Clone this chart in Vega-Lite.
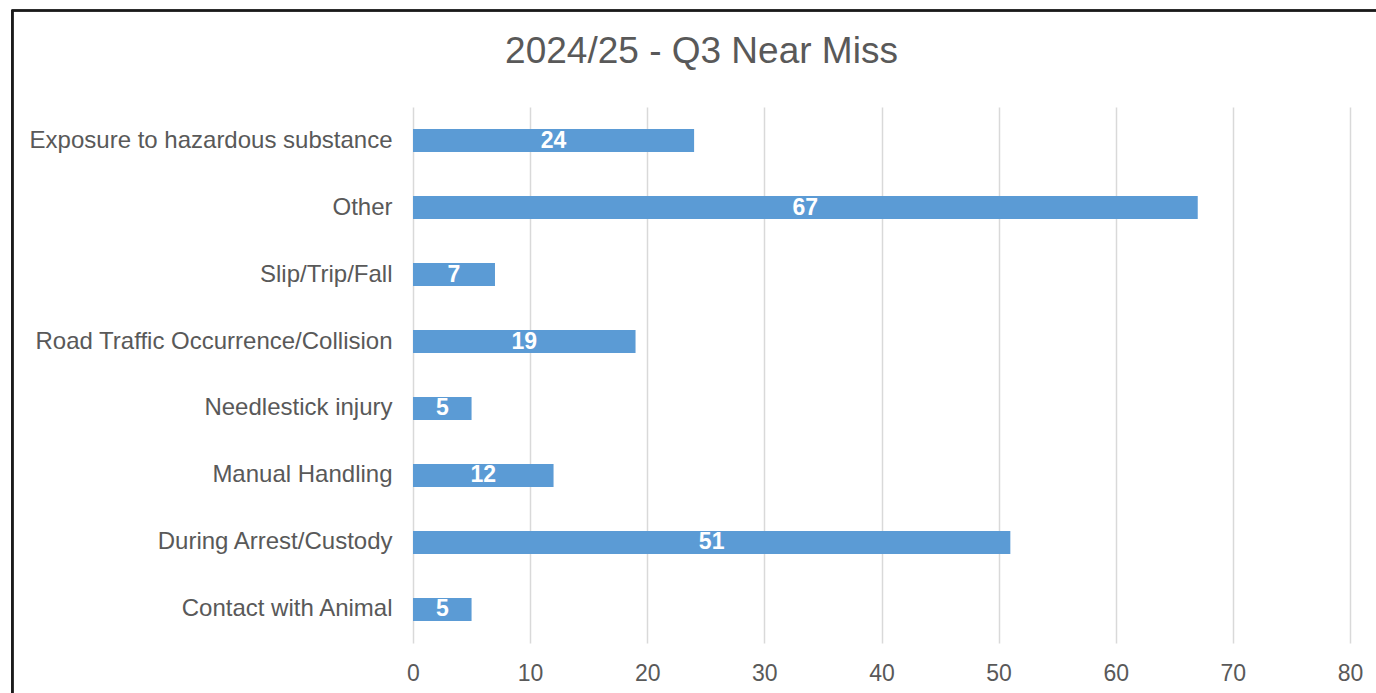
{
  "$schema": "https://vega.github.io/schema/vega-lite/v6.json",
  "width": 937,
  "height": 536,
  "autosize": {"type": "none"},
  "padding": {"left": 413, "top": 107, "right": 26, "bottom": 50},
  "background": "white",
  "title": {
    "text": "2024/25 - Q3 Near Miss",
    "font": "Liberation Sans",
    "fontSize": 37,
    "fontWeight": "normal",
    "color": "#595959",
    "anchor": "middle",
    "frame": "group",
    "baseline": "alphabetic",
    "offset": -90,
    "dx": -180
  },
  "config": {
    "view": {"stroke": null},
    "font": "Liberation Sans"
  },
  "data": {
    "values": [
      {"category": "Exposure to hazardous substance", "count": 24},
      {"category": "Other", "count": 67},
      {"category": "Slip/Trip/Fall", "count": 7},
      {"category": "Road Traffic Occurrence/Collision", "count": 19},
      {"category": "Needlestick injury", "count": 5},
      {"category": "Manual Handling", "count": 12},
      {"category": "During Arrest/Custody", "count": 51},
      {"category": "Contact with Animal", "count": 5}
    ]
  },
  "layer": [
    {
      "mark": {"type": "rect", "filled": false, "stroke": "#1a1a1a", "strokeWidth": 1.6},
      "encoding": {
        "x": {"datum": -34.2, "type": "quantitative"},
        "x2": {"datum": 95},
        "y": {"datum": 632.5, "type": "quantitative", "scale": {"domain": [0, 536]}, "axis": null},
        "y2": {"datum": -120}
      }
    },
    {
      "encoding": {
        "y": {
          "field": "category",
          "type": "nominal",
          "sort": null,
          "scale": {"paddingInner": 0.655, "paddingOuter": 0.3276},
          "axis": {
            "title": null,
            "domain": false,
            "ticks": false,
            "tickSize": 0,
            "labelFontSize": 24,
            "labelColor": "#595959",
            "labelPadding": 21,
            "labelLimit": 600
          }
        }
      },
      "layer": [
        {
          "mark": {"type": "bar", "color": "#5b9bd5"},
          "encoding": {
            "x": {
              "field": "count",
              "type": "quantitative",
              "scale": {"domain": [0, 80], "nice": false},
              "axis": {
                "title": null,
                "values": [0, 10, 20, 30, 40, 50, 60, 70, 80],
                "domain": false,
                "ticks": false,
                "tickSize": 0,
                "grid": true,
                "gridColor": "#d9d9d9",
                "gridWidth": 1.5,
                "labelFlush": false,
                "labelFontSize": 23,
                "labelColor": "#595959",
                "labelPadding": 19
              }
            }
          }
        },
        {
          "mark": {"type": "text", "color": "white", "fontWeight": "bold", "fontSize": 23, "baseline": "middle", "align": "center"},
          "encoding": {
            "x": {"field": "count", "type": "quantitative", "stack": "zero", "bandPosition": 0.5},
            "text": {"field": "count", "type": "quantitative"}
          }
        }
      ]
    }
  ],
  "resolve": {"scale": {"y": "independent"}}
}
